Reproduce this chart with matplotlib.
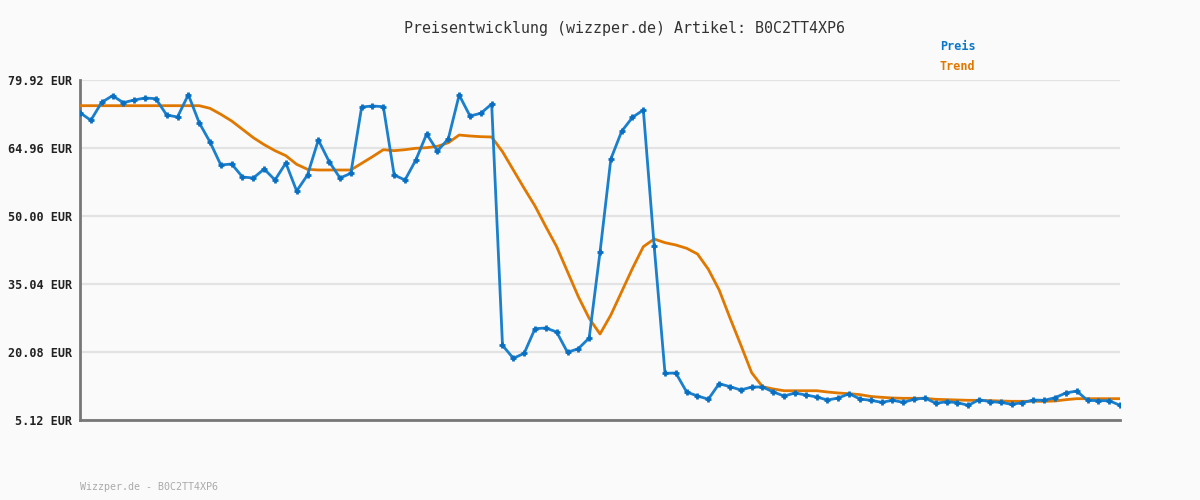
import matplotlib
matplotlib.use("Agg")
import matplotlib.pyplot as plt

title = "Preisentwicklung (wizzper.de) Artikel: B0C2TT4XP6"
footer = "Wizzper.de - B0C2TT4XP6"
y_ticks = [5.12, 20.08, 35.04, 50.00, 64.96, 79.92]
y_labels = ["5.12 EUR", "20.08 EUR", "35.04 EUR", "50.00 EUR", "64.96 EUR", "79.92 EUR"]

preis = [72.73, 71.05, 75.00, 76.47, 74.93, 75.52, 75.96, 75.81, 72.22, 71.78,
         76.69, 70.53, 66.28, 61.22, 61.44, 58.58, 58.36, 60.34, 57.92, 61.66,
         55.50, 59.02, 66.72, 61.95, 58.36, 59.39, 73.98, 74.20, 74.05, 59.02,
         57.92, 62.32, 68.04, 64.30, 67.00, 76.62, 72.00, 72.60, 74.64, 21.55,
         18.69, 19.79, 25.21, 25.36, 24.48, 20.01, 20.81, 23.16, 42.01, 62.54,
         68.63, 71.71, 73.32, 43.40, 15.39, 15.46, 11.28, 10.40, 9.70, 13.11,
         12.45, 11.72, 12.38, 12.38, 11.28, 10.40, 11.06, 10.62, 10.18, 9.52,
         9.96, 10.91, 9.74, 9.45, 9.01, 9.45, 9.01, 9.67, 9.96, 8.79,
         9.15, 8.93, 8.35, 9.59, 9.15, 9.01, 8.57, 8.93, 9.52, 9.45,
         10.03, 11.06, 11.50, 9.45, 9.37, 9.37, 8.35]

trend = [74.27, 74.27, 74.27, 74.27, 74.27, 74.27, 74.27, 74.27, 74.27, 74.27,
         74.27, 74.27, 73.69, 72.37, 70.90, 69.07, 67.23, 65.69, 64.37, 63.27,
         61.37, 60.27, 60.12, 60.12, 60.12, 60.12, 61.59, 63.05, 64.59, 64.37,
         64.59, 64.90, 65.03, 65.33, 66.12, 67.82, 67.60, 67.45, 67.38, 64.15,
         60.12, 56.09, 52.20, 47.65, 43.25, 37.75, 32.25, 27.49, 24.04, 28.22,
         33.35, 38.49, 43.25, 44.94, 44.13, 43.62, 42.89, 41.64, 38.28, 33.72,
         27.56, 21.62, 15.53, 12.45, 11.94, 11.56, 11.56, 11.56, 11.56, 11.28,
         11.06, 10.91, 10.70, 10.30, 10.11, 9.96, 9.89, 9.89, 9.89, 9.67,
         9.60, 9.52, 9.45, 9.45, 9.38, 9.30, 9.23, 9.23, 9.23, 9.23,
         9.30, 9.59, 9.81, 9.81, 9.81, 9.81, 9.81]

bg = "#fafafa"
fig = plt.figure(figsize=(12, 5), dpi=100, facecolor=bg)
ax = fig.add_axes([80/1200, 80/500, 1040/1200, 340/500], facecolor=bg)

x = list(range(len(preis)))
ax.plot(x, trend, color="#e07800", lw=2.0, zorder=3, solid_capstyle="round")
ax.plot(x, preis, color="#1a7fcc", lw=2.0, marker="+", ms=4.5, mew=2.0,
        mec="#0a6fc0", zorder=4)

ax.set_xlim(0, len(preis) - 1)
ax.set_ylim(5.12, 79.92)
ax.set_yticks(y_ticks)
ax.set_yticklabels(y_labels, fontfamily="DejaVu Sans Mono", fontweight="bold",
                   fontsize=8.5, color="#222222")
ax.set_xticks([])
ax.tick_params(axis="y", length=0, pad=6)
ax.yaxis.grid(True, color="#e3e3e3", lw=1.6, zorder=0)
ax.set_axisbelow(True)
for s in ["top", "right"]:
    ax.spines[s].set_visible(False)
for s in ["left", "bottom"]:
    ax.spines[s].set_color("#777777")
    ax.spines[s].set_linewidth(2.0)

fig.text(624/1200, 1 - 28/500, title, ha="center", va="center",
         fontfamily="DejaVu Sans Mono", fontsize=10.8, color="#333333")
fig.text(940/1200, 1 - 47/500, "Preis", ha="left", va="center",
         fontfamily="DejaVu Sans Mono", fontweight="bold", fontsize=8.5, color="#0a78c8")
fig.text(940/1200, 1 - 67/500, "Trend", ha="left", va="center",
         fontfamily="DejaVu Sans Mono", fontweight="bold", fontsize=8.5, color="#e07800")
fig.text(80/1200, 1 - 487/500, footer, ha="left", va="center",
         fontfamily="DejaVu Sans Mono", fontsize=7.2, color="#aaaaaa")

fig.savefig("out.png", dpi=100, facecolor=bg)
